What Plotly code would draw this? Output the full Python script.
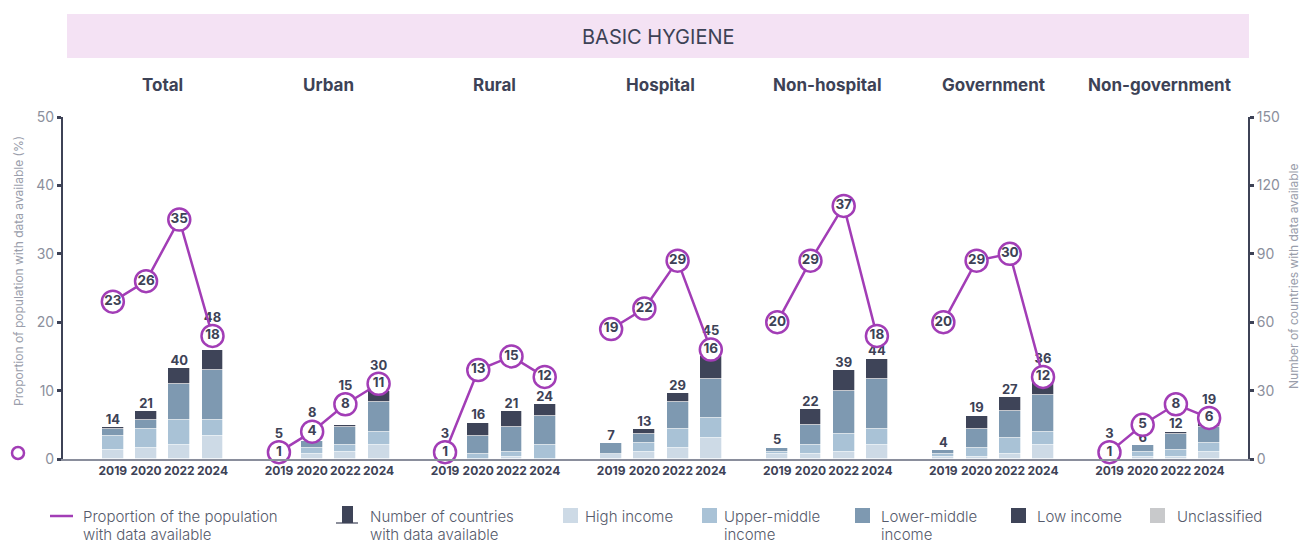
import plotly.graph_objects as go

# ---------------- data ----------------
years = ["2019", "2020", "2022", "2024"]
panels = ["Total", "Urban", "Rural", "Hospital", "Non-hospital", "Government", "Non-government"]

# proportion of population with data available (%)
pct_total = [23, 26, 35, 18]
pct_urban = [1, 4, 8, 11]
pct_rural = [1, 13, 15, 12]
pct_hospital = [19, 22, 29, 16]
pct_nonhospital = [20, 29, 37, 18]
pct_government = [20, 29, 30, 12]
pct_nongovernment = [1, 5, 8, 6]

# number of countries by income group
high_income = [4, 5, 6, 10,  2, 2, 3, 6,  0, 0, 1, 0,  2, 3, 5, 9,  2, 2, 3, 6,  1, 1, 2, 6,  0, 1, 1, 3]
upper_middle = [6, 8, 11, 7,  2, 3, 3, 6,  1, 2, 2, 6,  0, 4, 8, 9,  1, 4, 8, 7,  1, 4, 7, 6,  1, 2, 3, 4]
lower_middle = [3, 4, 16, 22,  1, 3, 8, 13,  2, 8, 11, 13,  5, 4, 12, 17,  2, 9, 19, 22,  2, 8, 12, 16,  2, 3, 7, 7]
low_income = [1, 4, 7, 9,  0, 0, 1, 5,  0, 6, 7, 5,  0, 2, 4, 10,  0, 7, 9, 9,  0, 6, 6, 8,  0, 0, 1, 5]
unclassified = [0] * 28

# layout flag: count label placed above the circle marker
lift_label = [False, False, False, True,  True, True, True, True,  True, False, False, False,
              False, False, False, True,  False, False, False, False,  False, False, False, True,
              True, False, False, True]

pct_all = [pct_total, pct_urban, pct_rural, pct_hospital, pct_nonhospital, pct_government, pct_nongovernment]

# ---------------- style ----------------
PURPLE = "#a23db6"
DARK = "#3d4256"
GRAY = "#8b8f9c"
C_HIGH = "#cddae6"
C_UPPER = "#a9c2d6"
C_LOWER = "#7e99b1"
C_LOW = "#3e4458"
C_UNCL = "#c8c9cb"
FONT = "Inter"

W, H = 1301, 544
ML, MT = 63, 117
PW, PH = 1185, 342
MR = W - ML - PW
MB = H - MT - PH

# page-pixel -> paper coordinates
def px(xp):
    return (xp - ML) / PW

def py(yp):
    return (MT + PH - yp) / PH

positions = [p * 5 + i for p in range(len(panels)) for i in range(len(years))]
ticktext = years * len(panels)

fig = go.Figure()

groups = [("High income", high_income, C_HIGH), ("Upper-middle income", upper_middle, C_UPPER),
          ("Lower-middle income", lower_middle, C_LOWER), ("Low income", low_income, C_LOW),
          ("Unclassified", unclassified, C_UNCL)]
for name, vals, col in groups:
    fig.add_trace(go.Bar(x=positions, y=vals, name=name, width=0.66, yaxis="y",
                         marker=dict(color=col, line=dict(color="white", width=0.7)),
                         showlegend=False, hoverinfo="skip"))

totals = [high_income[k] + upper_middle[k] + lower_middle[k] + low_income[k] + unclassified[k]
          for k in range(len(positions))]
pct_flat = [v for pv in pct_all for v in pv]
R_UNITS = 4.8  # circle radius in country units
anchors = [max(totals[k], pct_flat[k] * 3 + R_UNITS) if lift_label[k] else totals[k]
           for k in range(len(positions))]
fig.add_trace(go.Scatter(x=positions, y=anchors, mode="text", text=[str(t) for t in totals],
                         textposition="top center", yaxis="y", cliponaxis=False,
                         textfont=dict(family=FONT, size=13, color=DARK, weight="bold"),
                         showlegend=False, hoverinfo="skip"))

for p, pv in enumerate(pct_all):
    xs = [p * 5 + i for i in range(len(years))]
    fig.add_trace(go.Scatter(x=xs, y=pv, yaxis="y2", mode="lines+markers+text",
                             text=[str(v) for v in pv], textposition="middle center",
                             textfont=dict(family=FONT, size=13.5, color=DARK, weight="bold"),
                             line=dict(color=PURPLE, width=2.5),
                             marker=dict(size=22, color="white", line=dict(color=PURPLE, width=2.5)),
                             cliponaxis=False, showlegend=False, hoverinfo="skip"))

axis_common = dict(showgrid=False, zeroline=False, showline=True, linecolor=DARK, linewidth=2,
                   ticks="outside", ticklen=4, tickwidth=3, tickcolor=DARK,
                   tickfont=dict(family=FONT, size=14, color=GRAY))

fig.update_layout(
    width=W, height=H, margin=dict(l=ML, r=MR, t=MT, b=MB, pad=0),
    plot_bgcolor="white", paper_bgcolor="white", barmode="stack", bargap=0,
    font=dict(family=FONT, color=DARK),
    xaxis=dict(range=[-1.5, 34.17], tickvals=positions, ticktext=ticktext, showgrid=False,
               zeroline=False, showline=True, linecolor="#8a8e9c", linewidth=2, ticks="",
               tickangle=0,
               tickfont=dict(family=FONT, size=12, color=DARK, weight="bold")),
    yaxis=dict(range=[0, 150], tickvals=[0, 30, 60, 90, 120, 150], side="right", **axis_common),
    yaxis2=dict(range=[0, 50], tickvals=[0, 10, 20, 30, 40, 50], side="left", overlaying="y",
                **axis_common),
    showlegend=False,
)

shapes = []
annotations = []

def ann(text, x, y, font, xref="paper", xanchor="center", yanchor="middle", **kw):
    annotations.append(dict(text=text, xref=xref, yref="paper", x=x, y=y, xanchor=xanchor,
                            yanchor=yanchor, showarrow=False, font=font, **kw))

# header band
shapes.append(dict(type="rect", xref="paper", yref="paper", x0=px(67), x1=px(1249),
                   y0=py(58), y1=py(14), fillcolor="#f4e2f4", line=dict(width=0), layer="below"))
ann("BASIC HYGIENE", px(658), py(37), dict(family=FONT, size=20, color=DARK))

for p, name in enumerate(panels):
    ann(name, p * 5 + 1.5, py(85), dict(family=FONT, size=17, color=DARK, weight="bold"), xref="x")

# axis titles
ann("Proportion of population with data available (%)", px(18), py(271),
    dict(family=FONT, size=12, color="#9a9eab"), textangle=-90)
shapes.append(dict(type="circle", xref="paper", yref="paper", xsizemode="pixel",
                   ysizemode="pixel", xanchor=px(18), yanchor=py(453), x0=-6, x1=6, y0=-6, y1=6,
                   line=dict(color=PURPLE, width=2.5), fillcolor="white"))
ann("Number of countries with data available", px(1293), py(277),
    dict(family=FONT, size=12, color="#9a9eab"), textangle=-90)

# manual legend
LEG_FONT = dict(family=FONT, size=15, color="#555a6b", weight=300)
L1, L2 = 516, 534.5

def legend_text(lines, tx):
    for line, yy in zip(lines, (L1, L2)):
        ann(line, px(tx), py(yy), LEG_FONT, xanchor="left", borderpad=0)

shapes.append(dict(type="line", xref="paper", yref="paper", x0=px(50), x1=px(73),
                   y0=py(516), y1=py(516), line=dict(color=PURPLE, width=2.5)))
legend_text(["Proportion of the population", "with data available"], 82)
shapes.append(dict(type="rect", xref="paper", yref="paper", x0=px(342), x1=px(353),
                   y0=py(523), y1=py(506), fillcolor=C_LOW, line=dict(width=0)))
shapes.append(dict(type="line", xref="paper", yref="paper", x0=px(336), x1=px(358),
                   y0=py(523), y1=py(523), line=dict(color=C_LOW, width=1.2)))
legend_text(["Number of countries", "with data available"], 369)
legend_items = [(["High income"], C_HIGH, 563, 584), (["Upper-middle", "income"], C_UPPER, 702, 723),
                (["Lower-middle", "income"], C_LOWER, 855, 880), (["Low income"], C_LOW, 1011, 1036),
                (["Unclassified"], C_UNCL, 1150, 1176)]
for lines, col, sx, tx in legend_items:
    shapes.append(dict(type="rect", xref="paper", yref="paper", x0=px(sx), x1=px(sx + 15),
                       y0=py(523), y1=py(508), fillcolor=col, line=dict(width=0)))
    legend_text(lines, tx)

fig.update_layout(shapes=shapes, annotations=annotations)
fig.write_html(
    "out.html",
    config={"displayModeBar": False},
    post_script="document.body.style.margin='0';document.documentElement.style.overflow='hidden';",
)
